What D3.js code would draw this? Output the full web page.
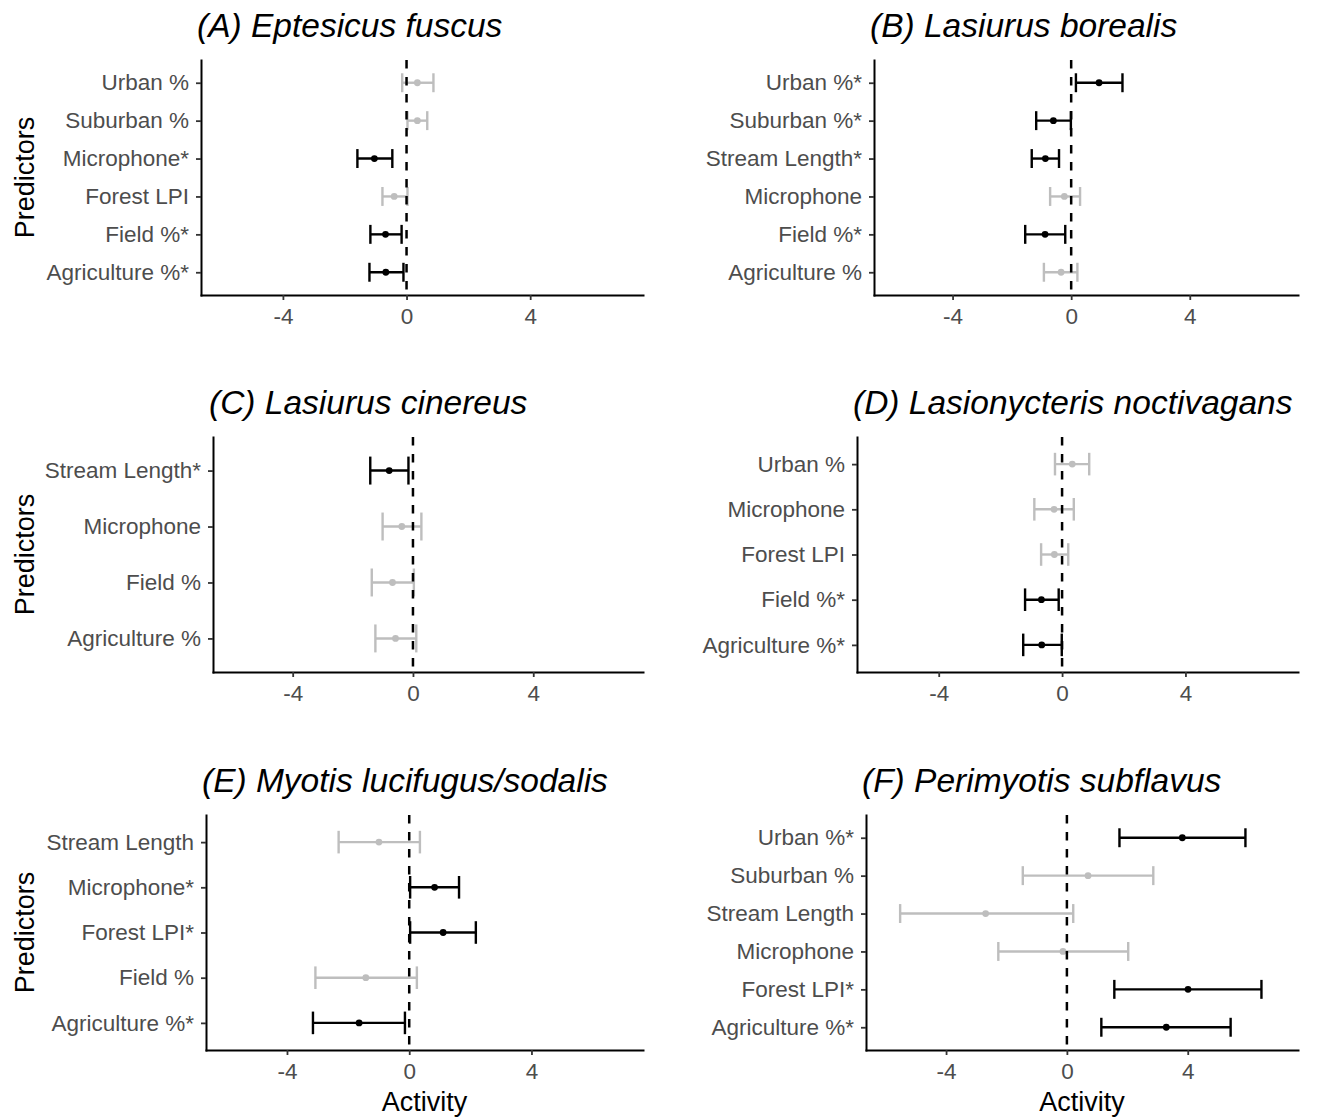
<!DOCTYPE html>
<html>
<head>
<meta charset="utf-8">
<script src="https://cdn.jsdelivr.net/npm/d3@7"></script>
<style>
  html, body { margin: 0; padding: 0; background: #fff; }
  svg { display: block; font-family: "Liberation Sans", Arial, Helvetica, sans-serif; }
</style>
</head>
<body>
<svg id="chart" width="1319" height="1117"></svg>
<script>
// Shared axis settings
const xLimits = [-6, 7];
const xTicks = [-4, 0, 4];
const xTitle = "Activity";
const yTitle = "Predictors";

// Panel titles
const titles = [
  "(A) Eptesicus fuscus",
  "(B) Lasiurus borealis",
  "(C) Lasiurus cinereus",
  "(D) Lasionycteris noctivagans",
  "(E) Myotis lucifugus/sodalis",
  "(F) Perimyotis subflavus"
];

// (A) Eptesicus fuscus
const predictorsA = ["Urban %", "Suburban %", "Microphone*", "Forest LPI", "Field %*", "Agriculture %*"];
const estimateA = [0.35, 0.35, -1.04, -0.40, -0.68, -0.67];
const lowerA = [-0.14, 0.03, -1.59, -0.78, -1.17, -1.20];
const upperA = [0.87, 0.67, -0.46, 0.03, -0.16, -0.10];

// (B) Lasiurus borealis
const predictorsB = ["Urban %*", "Suburban %*", "Stream Length*", "Microphone", "Field %*", "Agriculture %"];
const estimateB = [0.94, -0.60, -0.87, -0.23, -0.88, -0.34];
const lowerB = [0.16, -1.18, -1.33, -0.71, -1.55, -0.92];
const upperB = [1.73, -0.01, -0.41, 0.30, -0.20, 0.21];

// (C) Lasiurus cinereus
const predictorsC = ["Stream Length*", "Microphone", "Field %", "Agriculture %"];
const estimateC = [-0.79, -0.37, -0.68, -0.58];
const lowerC = [-1.42, -1.01, -1.37, -1.25];
const upperC = [-0.15, 0.28, 0.03, 0.11];

// (D) Lasionycteris noctivagans
const predictorsD = ["Urban %", "Microphone", "Forest LPI", "Field %*", "Agriculture %*"];
const estimateD = [0.33, -0.26, -0.25, -0.67, -0.66];
const lowerD = [-0.23, -0.90, -0.68, -1.20, -1.26];
const upperD = [0.88, 0.38, 0.20, -0.11, -0.01];

// (E) Myotis lucifugus/sodalis
const predictorsE = ["Stream Length", "Microphone*", "Forest LPI*", "Field %", "Agriculture %*"];
const estimateE = [-0.99, 0.83, 1.11, -1.42, -1.64];
const lowerE = [-2.31, 0.03, 0.03, -3.07, -3.15];
const upperE = [0.35, 1.63, 2.18, 0.25, -0.14];

// (F) Perimyotis subflavus
const predictorsF = ["Urban %*", "Suburban %", "Stream Length", "Microphone", "Forest LPI*", "Agriculture %*"];
const estimateF = [3.82, 0.70, -2.69, -0.13, 4.01, 3.29];
const lowerF = [1.74, -1.46, -5.52, -2.27, 1.57, 1.14];
const upperF = [5.91, 2.86, 0.21, 2.03, 6.44, 5.42];

const panelData = [
  [predictorsA, estimateA, lowerA, upperA],
  [predictorsB, estimateB, lowerB, upperB],
  [predictorsC, estimateC, lowerC, upperC],
  [predictorsD, estimateD, lowerD, upperD],
  [predictorsE, estimateE, lowerE, upperE],
  [predictorsF, estimateF, lowerF, upperF]
];

// Panel frames (plot area of each facet)
const panelLeft = [201, 874, 213, 857, 206, 866];
const colRight = [643, 1298];
const rowTop = [60, 437, 815];
const panelHeight = 235;

const INK = "#000000";
const FADED = "#BEBEBE";
const TEXT_GREY = "#4D4D4D";

const svg = d3.select("#chart");

// ggplot-style 5% expansion of the continuous x range
const span = xLimits[1] - xLimits[0];
const xDomain = [xLimits[0] - 0.05 * span, xLimits[1] + 0.05 * span];

panelData.forEach(([preds, est, lo, hi], i) => {
  const col = i % 2, row = Math.floor(i / 2);
  const left = panelLeft[i], right = colRight[col];
  const top = rowTop[row], bottom = top + panelHeight;

  const x = d3.scaleLinear().domain(xDomain).range([left, right]);
  const y = d3.scalePoint().domain(preds).range([top, bottom]).padding(0.6);
  const capHalf = y.step() * 0.25;

  const g = svg.append("g");

  // Title, left-aligned on the panel
  g.append("text")
    .attr("x", left - 4)
    .attr("y", top - 23)
    .attr("font-size", 33.5)
    .attr("font-style", "italic")
    .attr("fill", "#000")
    .text(titles[i]);

  // Axes
  const xAxis = g.append("g")
    .attr("transform", `translate(0,${bottom})`)
    .call(d3.axisBottom(x).tickValues(xTicks).tickSize(5).tickSizeOuter(0).tickPadding(8).tickFormat(d3.format("d")));
  const yAxis = g.append("g")
    .attr("transform", `translate(${left},0)`)
    .call(d3.axisLeft(y).tickSize(5).tickSizeOuter(0).tickPadding(7));

  [xAxis, yAxis].forEach(ax => {
    ax.select(".domain").attr("stroke", "#000").attr("stroke-width", 2).attr("stroke-linecap", "square");
    ax.selectAll(".tick line").attr("stroke", "#333").attr("stroke-width", 1.8);
    ax.selectAll(".tick text")
      .attr("fill", TEXT_GREY)
      .attr("font-size", 22.5)
      .attr("font-family", "'Liberation Sans', Arial, Helvetica, sans-serif");
  });
  // Minus sign drawn as a hyphen
  xAxis.selectAll(".tick text").text(d => String(d));

  const rows = preds.map((p, k) => ({ p, est: est[k], lo: lo[k], hi: hi[k], sig: p.endsWith("*") }));
  const colorOf = d => d.sig ? INK : FADED;

  // Intervals with end caps
  const bars = g.append("g").selectAll("g").data(rows).join("g");
  bars.append("line")
    .attr("x1", d => x(d.lo)).attr("x2", d => x(d.hi))
    .attr("y1", d => y(d.p)).attr("y2", d => y(d.p))
    .attr("stroke", colorOf).attr("stroke-width", 2.4);
  bars.append("line")
    .attr("x1", d => x(d.lo)).attr("x2", d => x(d.lo))
    .attr("y1", d => y(d.p) - capHalf).attr("y2", d => y(d.p) + capHalf)
    .attr("stroke", colorOf).attr("stroke-width", 2.4);
  bars.append("line")
    .attr("x1", d => x(d.hi)).attr("x2", d => x(d.hi))
    .attr("y1", d => y(d.p) - capHalf).attr("y2", d => y(d.p) + capHalf)
    .attr("stroke", colorOf).attr("stroke-width", 2.4);
  bars.append("circle")
    .attr("cx", d => x(d.est)).attr("cy", d => y(d.p))
    .attr("r", 3.4)
    .attr("fill", colorOf);

  // Reference line at zero
  g.append("line")
    .attr("x1", x(0)).attr("x2", x(0))
    .attr("y1", top).attr("y2", bottom)
    .attr("stroke", "#000").attr("stroke-width", 2.5)
    .attr("stroke-dasharray", "8.5,8.5");

  // Axis titles
  if (col === 0) {
    g.append("text")
      .attr("transform", `translate(34,${(top + bottom) / 2}) rotate(-90)`)
      .attr("text-anchor", "middle")
      .attr("font-size", 27)
      .attr("fill", "#000")
      .text(yTitle);
  }
  if (row === 2) {
    g.append("text")
      .attr("x", (left + right) / 2)
      .attr("y", 1111)
      .attr("text-anchor", "middle")
      .attr("font-size", 27)
      .attr("fill", "#000")
      .text(xTitle);
  }
});
</script>
</body>
</html>
